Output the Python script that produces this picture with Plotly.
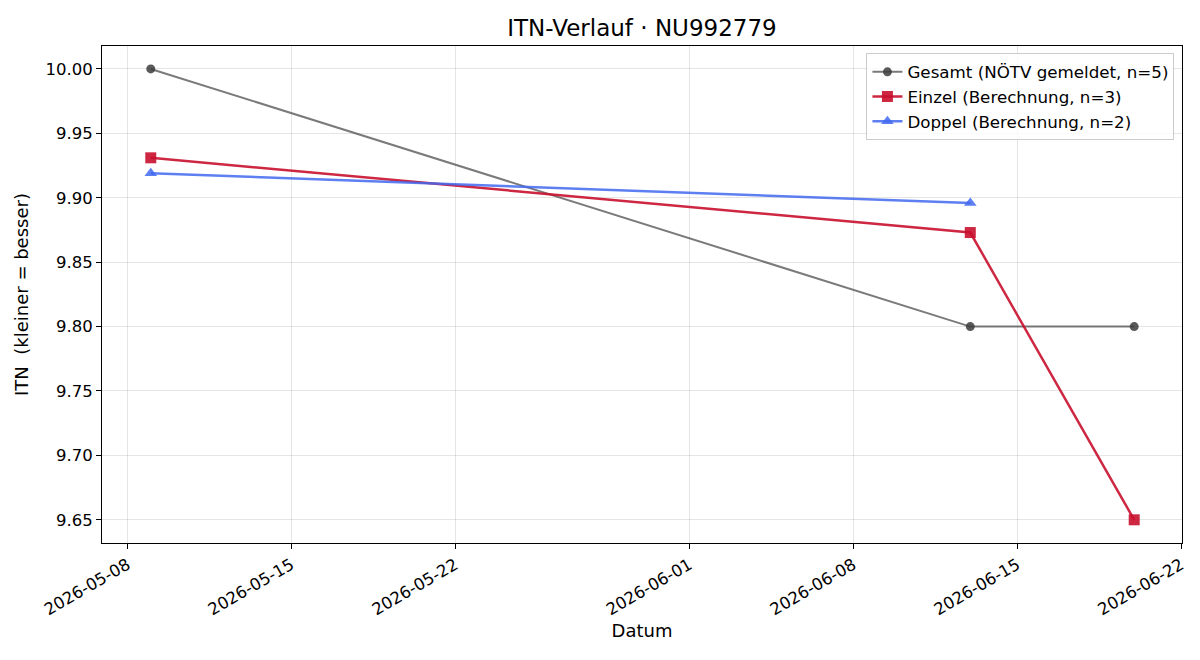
import plotly.graph_objects as go

gesamt_dates = ["2026-05-09", "2026-06-13", "2026-06-20"]
gesamt_vals = [10.00, 9.80, 9.80]
einzel_dates = ["2026-05-09", "2026-06-13", "2026-06-20"]
einzel_vals = [9.931, 9.873, 9.650]
doppel_dates = ["2026-05-09", "2026-06-13"]
doppel_vals = [9.919, 9.896]
x_ticks = ["2026-05-08", "2026-05-15", "2026-05-22", "2026-06-01", "2026-06-08", "2026-06-15", "2026-06-22"]
y_ticks = [9.65, 9.70, 9.75, 9.80, 9.85, 9.90, 9.95, 10.00]

font = "DejaVu Sans, sans-serif"
fig = go.Figure()
fig.add_trace(go.Scatter(
    x=gesamt_dates, y=gesamt_vals, mode="lines+markers",
    name="Gesamt (NÖTV gemeldet, n=5)",
    line=dict(color="rgba(85,85,85,0.78)", width=2),
    marker=dict(symbol="circle", size=9, color="rgba(60,60,60,0.85)"),
))
fig.add_trace(go.Scatter(
    x=einzel_dates, y=einzel_vals, mode="lines+markers",
    name="Einzel (Berechnung, n=3)",
    line=dict(color="rgba(200,16,46,0.9)", width=2.5),
    marker=dict(symbol="square", size=11, color="rgba(200,16,46,0.9)"),
))
fig.add_trace(go.Scatter(
    x=doppel_dates, y=doppel_vals, mode="lines+markers",
    name="Doppel (Berechnung, n=2)",
    line=dict(color="rgba(65,105,240,0.85)", width=2.5),
    marker=dict(symbol="triangle-up", size=11, color="rgba(65,105,240,0.85)"),
))

axis_common = dict(
    showline=True, linecolor="black", linewidth=1, mirror=True,
    ticks="outside", ticklen=5, tickcolor="black",
    showgrid=True, gridcolor="rgba(0,0,0,0.1)", gridwidth=1,
    zeroline=False, tickfont=dict(family=font, size=16.5, color="black"),
)
fig.update_layout(
    width=1200, height=660,
    margin=dict(l=102, r=18, t=46, b=117),
    paper_bgcolor="white", plot_bgcolor="white",
    font=dict(family=font, size=16, color="black"),
    title=dict(text="ITN-Verlauf · NU992779", x=0.535, xanchor="center",
               y=0.958, yanchor="middle", font=dict(family=font, size=23, color="black")),
    xaxis=dict(axis_common, type="date", range=["2026-05-06 22:00", "2026-06-22 01:00"],
               tickvals=x_ticks, ticktext=x_ticks, tickangle=-30,
               title=dict(text="Datum", font=dict(family=font, size=18), standoff=6)),
    yaxis=dict(axis_common, range=[9.632, 10.0178], tickvals=y_ticks,
               ticktext=[f"{v:.2f}" for v in y_ticks],
               title=dict(text="ITN  (kleiner = besser)", font=dict(family=font, size=18), standoff=12)),
    legend=dict(x=0.993, y=0.985, xanchor="right", yanchor="top",
                bgcolor="rgba(255,255,255,0.8)", bordercolor="#cccccc", borderwidth=1,
                font=dict(family=font, size=16.7, color="black"), tracegroupgap=2),
    showlegend=True,
)
fig.write_html("out.html")
